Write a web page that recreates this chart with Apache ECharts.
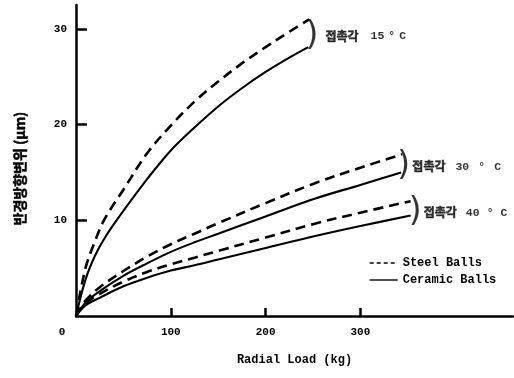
<!DOCTYPE html>
<html>
<head>
<meta charset="utf-8">
<script src="https://cdn.jsdelivr.net/npm/echarts@6/dist/echarts.min.js"></script>
<style>
  html, body { margin: 0; padding: 0; background: #fff; }
  #chart { width: 514px; height: 378px; }
</style>
</head>
<body>
<div id="chart"></div>
<script>
// Radial load (kg) vs. radial displacement (μm), steel vs. ceramic balls
const steel15Load = [0, 10, 20, 30, 50, 75, 100, 125, 150, 175, 200, 225, 246];
const steel15Disp = [0, 5.0, 7.8, 10.1, 13.2, 17.0, 19.9, 22.4, 24.5, 26.4, 28.1, 29.7, 31.0];
const ceramic15Load = [0, 10, 20, 30, 45, 75, 100, 125, 150, 175, 200, 225, 245];
const ceramic15Disp = [0, 3.8, 6.3, 8.1, 10.3, 14.3, 17.3, 19.7, 21.9, 23.8, 25.5, 27.0, 28.1];

const steel30Load = [0, 10, 25, 50, 75, 100, 125, 150, 200, 250, 300, 344];
const steel30Disp = [0, 1.6, 3.0, 4.7, 6.2, 7.5, 8.6, 9.7, 11.8, 13.8, 15.5, 16.9];
const ceramic30Load = [0, 10, 25, 50, 75, 100, 125, 150, 200, 250, 300, 343];
const ceramic30Disp = [0, 1.4, 2.6, 4.2, 5.5, 6.7, 7.7, 8.6, 10.4, 12.2, 13.7, 15.0];

const steel40Load = [0, 10, 25, 50, 75, 100, 125, 150, 200, 250, 300, 353];
const steel40Disp = [0, 1.3, 2.3, 3.6, 4.6, 5.4, 6.1, 6.8, 8.2, 9.6, 10.8, 12.0];
const ceramic40Load = [0, 10, 25, 50, 75, 100, 125, 150, 200, 250, 300, 353];
const ceramic40Disp = [0, 1.1, 1.9, 3.1, 4.0, 4.75, 5.3, 5.9, 7.1, 8.3, 9.4, 10.5];

const xTickValues = [0, 100, 200, 300];
const yTickValues = [10, 20, 30];

// contact-angle annotations: bracket anchor (load, displacement) and text
const angleLabels = ['접촉각 15 ° C', '접촉각 30 ° C', '접촉각 40 ° C'];
const angleAnchorLoad = [242, 339, 351];
const angleAnchorDisp = [29.2, 15.6, 10.8];

const seriesNames = ['Steel Balls', 'Ceramic Balls'];

const zip = (xs, ys) => xs.map((x, i) => [x, ys[i]]);

const LATIN = '"Liberation Mono", "DejaVu Sans Mono", monospace';
const KOREAN = '"Noto Sans CJK KR", sans-serif';

// per-annotation spacing: bracket→text, word gap, gap between number / ° / C
const annotationSpacing = [
  { afterBracket: 10, afterWord: 12, inner: 4 },
  { afterBracket: 5, afterWord: 10, inner: 9 },
  { afterBracket: 5, afterWord: 9, inner: 7 }
];

const annotationRich = {
  p: { fontFamily: '"DejaVu Sans", sans-serif', fontSize: 33, color: '#000', fontWeight: 'normal', width: 10 },
  k: { fontFamily: KOREAN, fontWeight: 'bold', fontSize: 12, color: '#000',
       textBorderColor: '#000', textBorderWidth: 0.5 },
  n: { fontFamily: LATIN, fontWeight: 'bold', fontSize: 11.5, color: '#000' }
};
annotationSpacing.forEach((s, i) => {
  annotationRich['b' + i] = { width: s.afterBracket };
  annotationRich['w' + i] = { width: s.afterWord };
  annotationRich['i' + i] = { width: s.inner };
});

function curve(name, xs, ys, dashed) {
  return {
    type: 'line',
    name: name,
    data: zip(xs, ys),
    smooth: 0.35,
    symbol: 'none',
    silent: true,
    color: '#000',
    lineStyle: {
      color: '#000',
      width: dashed ? 2.6 : 2.1,
      type: dashed ? [10, 6] : 'solid'
    },
    z: 3
  };
}

const chart = echarts.init(document.getElementById('chart'), null, { renderer: 'canvas' });

chart.setOption({
  animation: false,
  backgroundColor: '#fff',
  color: ['#000'],
  grid: { left: 76, right: 1, top: 5, bottom: 62, containLabel: false },
  legend: {
    left: 364,
    top: 252,
    orient: 'vertical',
    itemWidth: 28,
    itemHeight: 12,
    itemGap: 5,
    selectedMode: false,
    itemStyle: { opacity: 0 },
    data: [
      { name: seriesNames[0], lineStyle: { type: [4, 3], width: 1.4, color: '#000' } },
      { name: seriesNames[1], lineStyle: { type: 'solid', width: 1.4, color: '#000' } }
    ],
    textStyle: { fontFamily: LATIN, fontWeight: 'bold', fontSize: 12, color: '#000' }
  },
  xAxis: {
    type: 'value',
    min: 0,
    max: 461,
    interval: 100,
    name: 'Radial Load (kg)',
    nameLocation: 'middle',
    nameGap: 38,
    nameTextStyle: { fontFamily: LATIN, fontWeight: 'bold', fontSize: 12, color: '#000' },
    axisLine: { show: true, lineStyle: { color: '#000', width: 2.5 } },
    axisTick: { show: true, inside: true, length: 8, customValues: [100, 200, 300],
                lineStyle: { color: '#000', width: 2.5 } },
    axisLabel: {
      customValues: xTickValues,
      margin: 11,
      fontFamily: LATIN, fontWeight: 'bold', fontSize: 11, color: '#000',
      formatter: v => (v === 0 ? '{z|0}' : String(v)),
      rich: { z: { fontFamily: LATIN, fontWeight: 'bold', fontSize: 11, color: '#000', padding: [0, 28, 0, 0] } }
    },
    splitLine: { show: false }
  },
  yAxis: {
    type: 'value',
    min: 0,
    max: 32.5,
    interval: 10,
    name: '반경방향변위 (μm)',
    nameLocation: 'middle',
    nameGap: 49,
    nameTextStyle: { fontFamily: KOREAN, fontWeight: 'bold', fontSize: 14, color: '#000',
                     textBorderColor: '#000', textBorderWidth: 0.5, padding: [0, 16, 0, 0] },
    axisLine: { show: true, lineStyle: { color: '#000', width: 2.5 } },
    axisTick: { show: true, inside: true, length: 11, customValues: yTickValues,
                lineStyle: { color: '#000', width: 2.5 } },
    axisLabel: {
      customValues: yTickValues,
      margin: 9,
      fontFamily: LATIN, fontWeight: 'bold', fontSize: 11, color: '#000'
    },
    splitLine: { show: false }
  },
  series: [
    curve(seriesNames[0], steel15Load, steel15Disp, true),
    curve(seriesNames[1], ceramic15Load, ceramic15Disp, false),
    curve(seriesNames[0], steel30Load, steel30Disp, true),
    curve(seriesNames[1], ceramic30Load, ceramic30Disp, false),
    curve(seriesNames[0], steel40Load, steel40Disp, true),
    curve(seriesNames[1], ceramic40Load, ceramic40Disp, false),
    {
      type: 'scatter',
      name: 'angle',
      symbolSize: 0,
      silent: true,
      data: angleLabels.map((t, i) => ({ value: [angleAnchorLoad[i], angleAnchorDisp[i]], text: t })),
      label: {
        show: true,
        position: 'right',
        distance: 0,
        formatter: p => {
          const i = p.dataIndex;
          const [word, num, deg, unit] = p.data.text.split(' ');
          return '{p|)}{b' + i + '|}{k|' + word + '}{w' + i + '|}{n|' + num + '}{i' + i + '|}{n|' +
                 deg + '}{i' + i + '|}{n|' + unit + '}';
        },
        rich: annotationRich
      },
      z: 4
    }
  ]
});
</script>
</body>
</html>
